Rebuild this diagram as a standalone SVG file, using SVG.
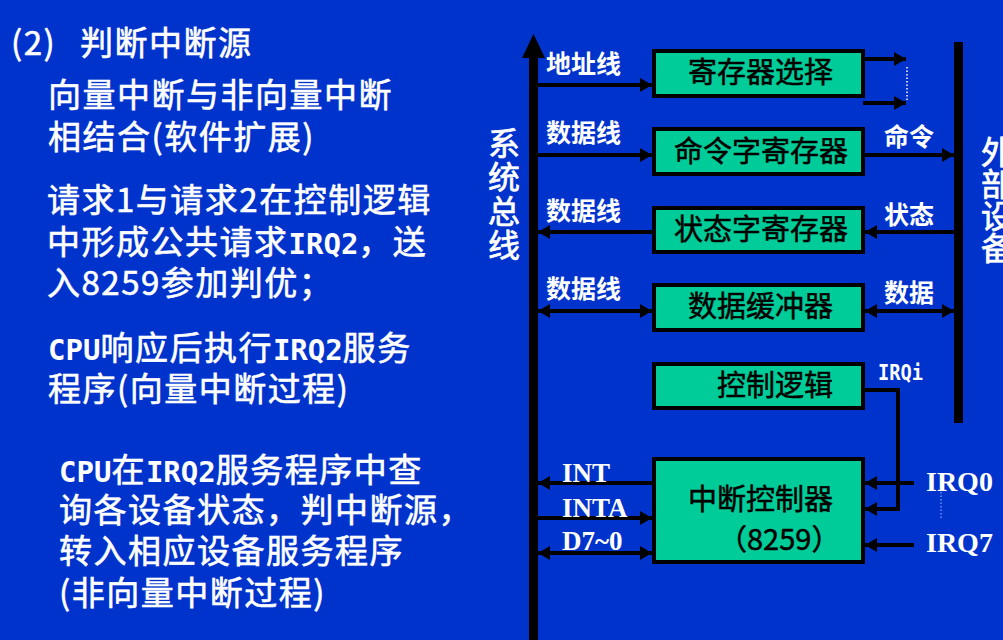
<svg xmlns="http://www.w3.org/2000/svg" width="1003" height="640" viewBox="0 0 1003 640">
  <style>
    .txt { font-family: "Noto Sans CJK SC", "Liberation Sans", sans-serif; fill: #ffffff; stroke: #ffffff; stroke-width: 0.6px; }
    .body { font-size: 33px; letter-spacing: 1.5px; }
    .mono { font-family: "DejaVu Sans Mono", monospace; font-size: 29px; letter-spacing: 0; font-weight: bold; stroke-width: 0; }
    .lbl { font-family: "Noto Sans CJK SC", sans-serif; font-size: 25px; font-weight: bold; fill: #ffffff; }
    .vert { font-family: "Noto Sans CJK SC", sans-serif; font-size: 32px; fill: #ffffff; stroke: #ffffff; stroke-width: 0.7px; }
    .sig { font-family: "Liberation Serif", "Times New Roman", serif; font-weight: bold; fill: #ffffff; }
    .box { fill: #00cc99; stroke: #000000; stroke-width: 4; }
    .btxt { font-family: "Noto Sans CJK SC", sans-serif; font-size: 29px; fill: #000000; stroke: #000000; stroke-width: 0.5px; }
    .wire { stroke: #000000; stroke-width: 4; fill: none; }
  </style>
  <defs>
    <marker id="ah" markerUnits="userSpaceOnUse" markerWidth="12" markerHeight="14" refX="12" refY="7" orient="auto-start-reverse">
      <path d="M0,0 L12,7 L0,14 Z" fill="#000000"/>
    </marker>
  </defs>

  <!-- background -->
  <rect x="0" y="0" width="1003" height="640" fill="#0033cc"/>

  <!-- explanatory text -->
  <g id="notes" class="txt body">
    <text x="11" y="55">(2)<tspan x="80">判断中断源</tspan></text>
    <text x="48" y="107">向量中断与非向量中断</text>
    <text x="48" y="149">相结合(软件扩展)</text>
    <text x="47" y="212">请求1与请求2在控制逻辑</text>
    <text x="47" y="254">中形成公共请求<tspan class="mono">IRQ2</tspan>，送</text>
    <text x="47" y="295">入8259参加判优；</text>
    <text x="48" y="360"><tspan class="mono">CPU</tspan>响应后执行<tspan class="mono">IRQ2</tspan>服务</text>
    <text x="48" y="401">程序(向量中断过程)</text>
    <text x="59" y="482"><tspan class="mono">CPU</tspan>在<tspan class="mono">IRQ2</tspan>服务程序中查</text>
    <text x="59" y="522">询各设备状态，判中断源，</text>
    <text x="59" y="563">转入相应设备服务程序</text>
    <text x="59" y="605">(非向量中断过程)</text>
  </g>

  <!-- system bus -->
  <g id="system-bus">
    <rect x="529" y="56" width="9" height="584" fill="#000000"/>
    <polygon points="522,58 545,58 533.5,34" fill="#000000"/>
    <text class="vert"><tspan x="488" y="155">系</tspan><tspan x="488" y="189">统</tspan><tspan x="488" y="223">总</tspan><tspan x="488" y="257">线</tspan></text>
  </g>

  <!-- external device bus -->
  <g id="external-device">
    <rect x="954" y="42" width="9" height="381" fill="#000000"/>
    <text class="vert"><tspan x="981" y="164">外</tspan><tspan x="981" y="196">部</tspan><tspan x="981" y="228">设</tspan><tspan x="981" y="260">备</tspan></text>
  </g>

  <!-- register blocks -->
  <g id="reg-select">
    <rect class="box" x="654" y="51" width="209" height="45"/>
    <text class="btxt" x="688" y="83">寄存器选择</text>
  </g>
  <g id="cmd-reg">
    <rect class="box" x="654" y="129" width="209" height="45"/>
    <text class="btxt" x="674" y="162">命令字寄存器</text>
  </g>
  <g id="status-reg">
    <rect class="box" x="654" y="208" width="209" height="44"/>
    <text class="btxt" x="674" y="240">状态字寄存器</text>
  </g>
  <g id="data-buffer">
    <rect class="box" x="654" y="285" width="209" height="45"/>
    <text class="btxt" x="688" y="317">数据缓冲器</text>
  </g>
  <g id="control-logic">
    <rect class="box" x="654" y="364" width="209" height="44"/>
    <text class="btxt" x="717" y="396">控制逻辑</text>
  </g>
  <g id="pic-8259">
    <rect class="box" x="654" y="459" width="209" height="103"/>
    <text class="btxt" x="688" y="510">中断控制器</text>
    <text class="btxt" x="718" y="550">（8259）</text>
  </g>

  <!-- connectors -->
  <g id="connectors">
    <!-- bus side -->
    <line class="wire" x1="538" y1="85" x2="652" y2="85" marker-end="url(#ah)"/>
    <line class="wire" x1="538" y1="155" x2="652" y2="155" marker-end="url(#ah)"/>
    <line class="wire" x1="652" y1="232" x2="538" y2="232" marker-end="url(#ah)"/>
    <line class="wire" x1="538" y1="311" x2="652" y2="311" marker-start="url(#ah)" marker-end="url(#ah)"/>
    <line class="wire" x1="652" y1="483" x2="538" y2="483" marker-end="url(#ah)"/>
    <line class="wire" x1="538" y1="518" x2="652" y2="518" marker-end="url(#ah)"/>
    <line class="wire" x1="538" y1="553" x2="652" y2="553" marker-start="url(#ah)" marker-end="url(#ah)"/>
    <!-- device side -->
    <line class="wire" x1="865" y1="59" x2="906" y2="59" marker-end="url(#ah)"/>
    <line class="wire" x1="863" y1="103" x2="906" y2="103" marker-end="url(#ah)"/>
    <line x1="907" y1="67" x2="907" y2="101" stroke="#ffffff" stroke-width="1.5" stroke-dasharray="1.5,2"/>
    <line class="wire" x1="865" y1="155" x2="954" y2="155" marker-end="url(#ah)"/>
    <line class="wire" x1="954" y1="232" x2="865" y2="232" marker-end="url(#ah)"/>
    <line class="wire" x1="865" y1="311" x2="954" y2="311" marker-start="url(#ah)" marker-end="url(#ah)"/>
    <path class="wire" d="M865,390 H898 V509 H865" marker-end="url(#ah)"/>
    <line class="wire" x1="914" y1="483" x2="865" y2="483" marker-end="url(#ah)"/>
    <line class="wire" x1="914" y1="545" x2="865" y2="545" marker-end="url(#ah)"/>
    <line x1="941" y1="492" x2="941" y2="520" stroke="#6f8fff" stroke-width="1.5" stroke-dasharray="1.5,2"/>
  </g>

  <!-- signal labels -->
  <g id="labels">
    <text class="lbl" x="546" y="73">地址线</text>
    <text class="lbl" x="546" y="142">数据线</text>
    <text class="lbl" x="546" y="220">数据线</text>
    <text class="lbl" x="546" y="298">数据线</text>
    <text class="lbl" x="884" y="146">命令</text>
    <text class="lbl" x="884" y="224">状态</text>
    <text class="lbl" x="884" y="302">数据</text>
    <text x="878" y="380" font-family="DejaVu Sans Mono, monospace" font-size="22" font-weight="bold" fill="#ffffff" textLength="45" lengthAdjust="spacingAndGlyphs">IRQi</text>
    <text class="sig" x="562" y="482" font-size="27">INT</text>
    <text class="sig" x="562" y="517" font-size="27">INTA</text>
    <text class="sig" x="562" y="550" font-size="27">D7~0</text>
    <text class="sig" x="926" y="491" font-size="28">IRQ0</text>
    <text class="sig" x="926" y="552" font-size="28">IRQ7</text>
  </g>
</svg>
